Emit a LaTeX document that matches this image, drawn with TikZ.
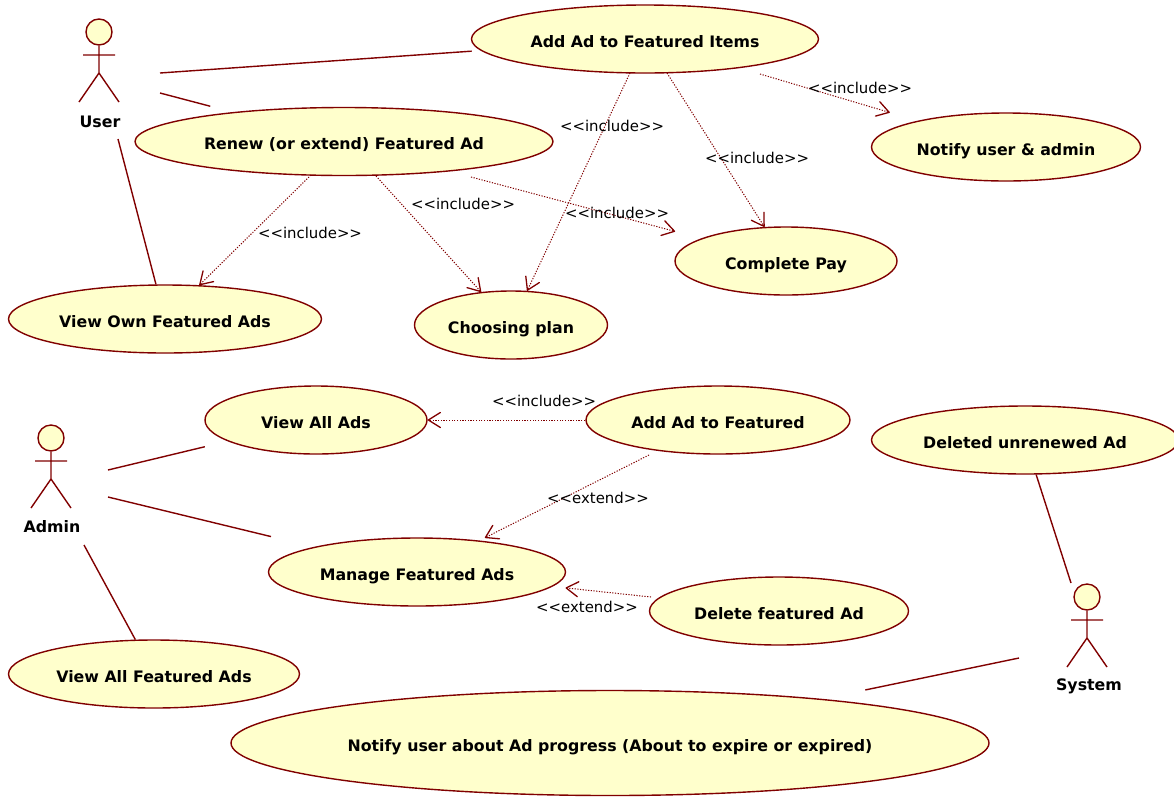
\documentclass[tikz,border=0pt]{standalone}
\usepackage{fontspec}
\setmainfont{DejaVu Sans}
\usetikzlibrary{arrows.meta,shapes.geometric}
\definecolor{umlline}{HTML}{800000}
\definecolor{umlfill}{HTML}{FFFFCC}
\tikzset{x=1pt,y=-1pt,
 usecase/.style={draw=umlline,fill=umlfill,ellipse,line width=1.4pt,inner sep=0pt,text height=16pt,text depth=0pt,font=\bfseries\fontsize{15.8}{18}\selectfont},
 actorlabel/.style={font=\bfseries\fontsize{15.8}{18}\selectfont,inner sep=0pt},
 assoc/.style={draw=umlline,line width=1.4pt},
 dep/.style={draw=umlline,line width=1pt,dash pattern=on 1.2pt off 1.5pt,-{Straight Barb[length=12pt,width=15pt,line width=1.3pt,round=false]}},
 deplabel/.style={font=\fontsize{14.9}{17}\selectfont,inner sep=0pt},
 actorline/.style={draw=umlline,line width=1.4pt},
 actorhead/.style={draw=umlline,fill=umlfill,circle,line width=1.4pt,minimum size=26pt,inner sep=0pt}}
\newcommand{\incl}{<{}<include>{}>}
\newcommand{\extd}{<{}<extend>{}>}
\newcommand{\uc}[6]{\node[usecase,minimum width=#4pt,minimum height=#5pt] (#1) at (#2,#3) {#6};}
\begin{document}
\begin{tikzpicture}
\useasboundingbox (0,0) rectangle (1174,796);
\uc{a}{645}{39}{347}{68}{Add Ad to Featured Items}
\uc{r}{344}{141.5}{418}{68}{Renew (or extend) Featured Ad}
\uc{n}{1006}{147}{269}{68}{Notify user \& admin}
\uc{c}{786}{261}{222}{68}{Complete Pay}
\uc{v}{165}{319}{313}{68}{View Own Featured Ads}
\uc{p}{511}{325}{193}{68}{Choosing plan}
\uc{va}{316}{420}{222}{68}{View All Ads}
\uc{aa}{718}{420}{264}{68}{Add Ad to Featured}
\uc{d}{1025}{440}{307}{68}{Deleted unrenewed Ad}
\uc{m}{417}{572}{297}{68}{Manage Featured Ads}
\uc{df}{779}{611}{259}{68}{Delete featured Ad}
\uc{vf}{154}{674}{291}{68}{View All Featured Ads}
\node[usecase,minimum width=758pt,minimum height=105pt] (na) at (610,743) {Notify user about Ad progress (About to expire or expired)};
% actors
\foreach \n/\x/\y/\lx/\ly/\t in {user/99/32/100/122/User,admin/51/438/52/527/Admin,sys/1087/597/1089/686/System}{
 \node[actorhead] (\n h) at (\x,\y) {};
 \coordinate (\n b) at (\x,\y+41);
 \coordinate (\n l) at (\x-16,\y+23);
 \coordinate (\n r) at (\x+16,\y+23);
 \coordinate (\n f) at (\x-20,\y+70);
 \coordinate (\n g) at (\x+20,\y+70);
 \draw[actorline] (\n h) -- (\n b) (\n l) -- (\n r) (\n f) -- (\n b) -- (\n g);
 \node[actorlabel] (\n t) at (\lx,\ly) {\t};
}
% associations
\coordinate (e1) at (160,73);
\coordinate (e2) at (160,93);
\coordinate (e3) at (118,139);
\coordinate (e4) at (108,470);
\coordinate (e5) at (108,497);
\coordinate (e6) at (84,545);
\coordinate (e7) at (1071,583);
\coordinate (e8) at (1019,658);
\draw[assoc,shorten >=9pt] (e1) -- (a);
\draw[assoc,shorten >=23pt] (e2) -- (r);
\draw[assoc] (e3) -- (v);
\draw[assoc,shorten >=23.5pt] (e4) -- (va);
\draw[assoc,shorten >=44pt] (e5) -- (m);
\draw[assoc] (e6) -- (vf);
\draw[assoc] (e7) -- (d);
\draw[assoc,shorten >=44pt] (e8) -- (na);
% dependencies
\coordinate (s1) at (760,74);
\coordinate (s2) at (667,73);
\coordinate (s3) at (630,73);
\coordinate (s4) at (471,177);
\coordinate (s5) at (376,176);
\coordinate (s6) at (311,175);
\coordinate (s7) at (585,420);
\coordinate (s8) at (649,455);
\coordinate (s9) at (651,597);
\draw[dep,shorten >=29pt] (s1) -- (n);
\draw[dep] (s2) -- (c);
\draw[dep] (s3) -- (p);
\draw[dep,shorten >=27pt] (s4) -- (c);
\draw[dep] (s5) -- (p);
\draw[dep] (s6) -- (v);
\draw[dep] (s7) -- (va);
\draw[dep,shorten >=6pt] (s8) -- (m);
\draw[dep,shorten >=13pt] (s9) -- (m);
% labels
\node[deplabel] (l1) at (860,88) {\incl};
\node[deplabel] (l2) at (757,158) {\incl};
\node[deplabel] (l3) at (612,126) {\incl};
\node[deplabel] (l4) at (617,213) {\incl};
\node[deplabel] (l5) at (463,204) {\incl};
\node[deplabel] (l6) at (310,233) {\incl};
\node[deplabel] (l7) at (544,401) {\incl};
\node[deplabel] (l8) at (598,498) {\extd};
\node[deplabel] (l9) at (587,607) {\extd};
\end{tikzpicture}
\end{document}
